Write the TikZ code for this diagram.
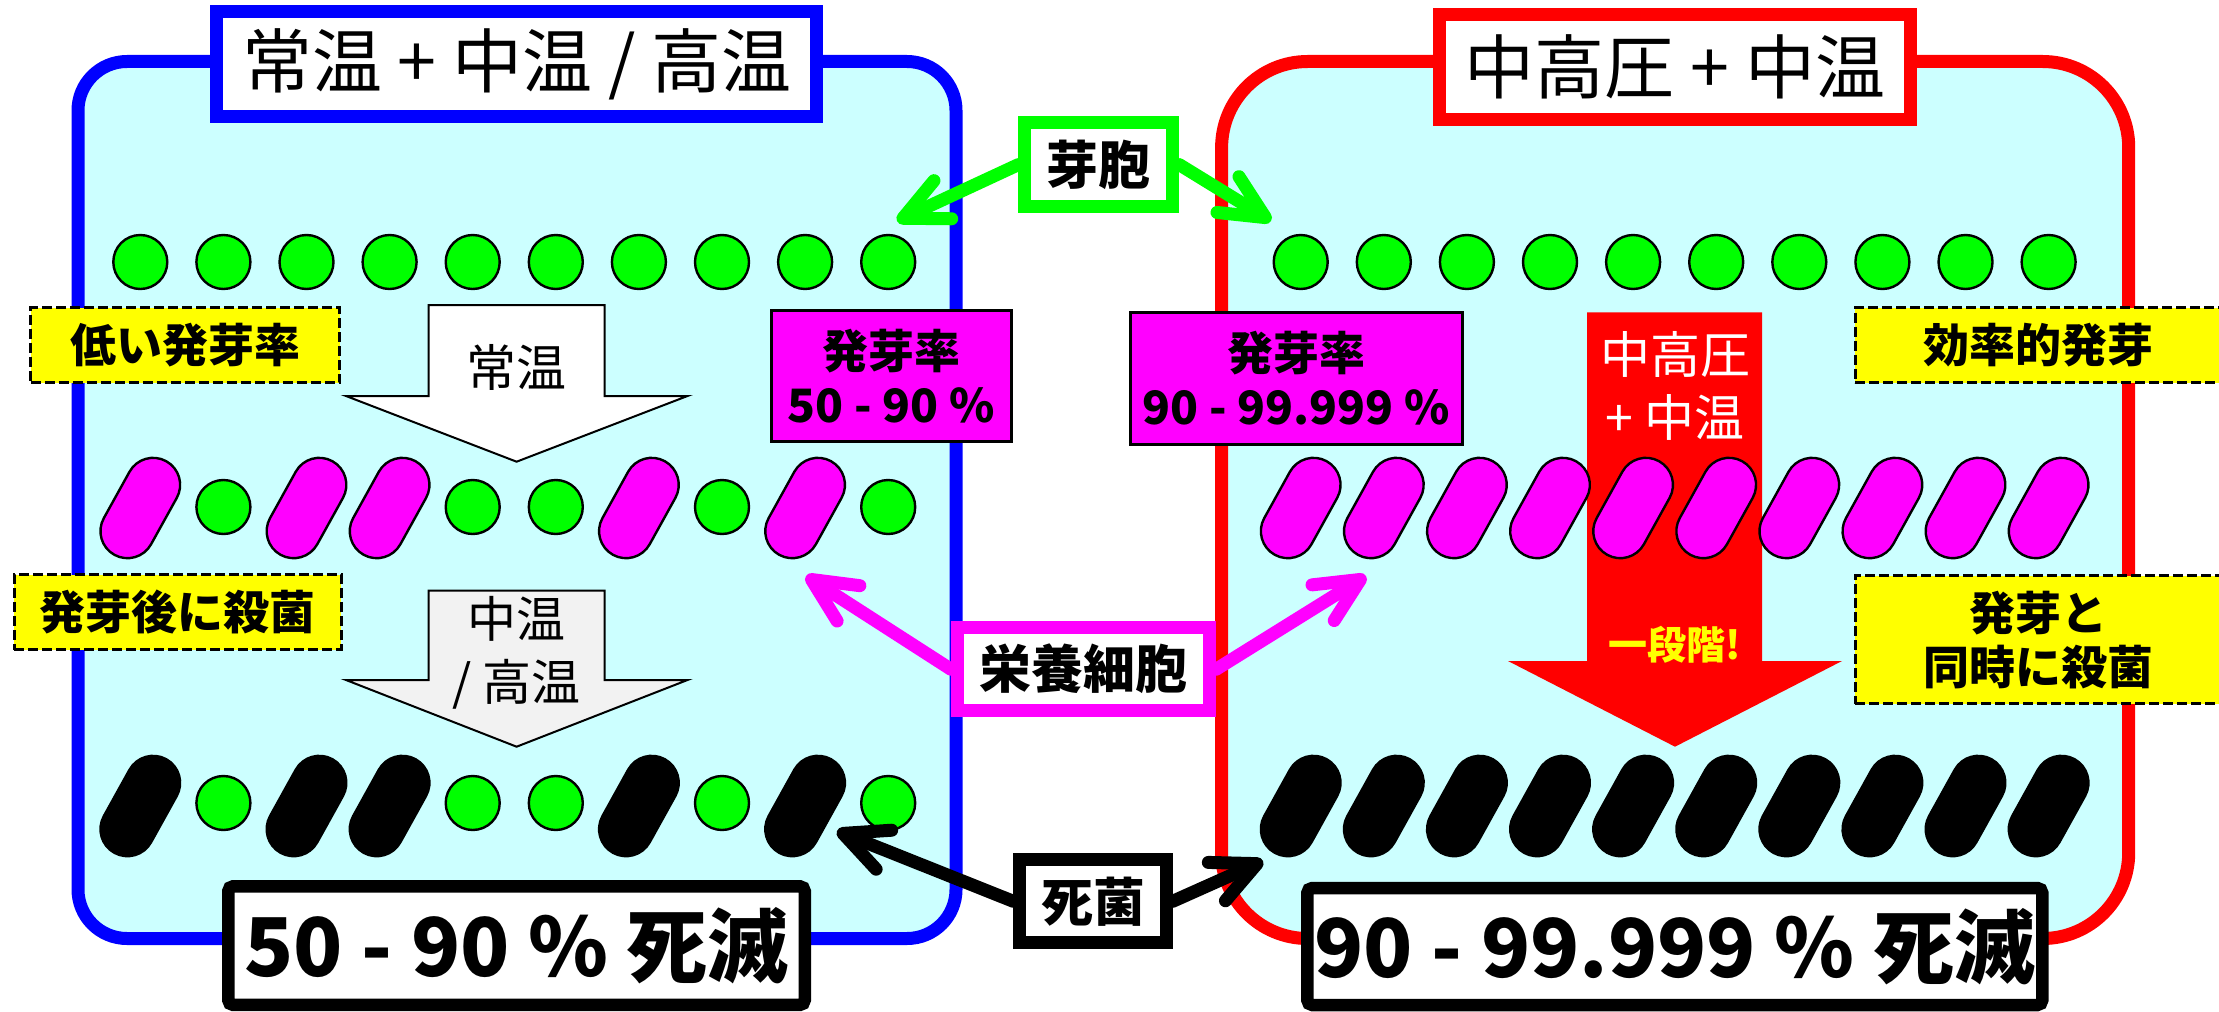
\documentclass[tikz,border=0pt]{standalone}
\usepackage{fontspec}
\setmainfont{Noto Sans CJK JP}
\usetikzlibrary{arrows.meta}
\definecolor{panelfill}{RGB}{204,255,255}
\definecolor{lightgrayfill}{RGB}{242,242,242}
\definecolor{cellmagenta}{RGB}{255,0,255}
\definecolor{cellgreen}{RGB}{0,255,0}
\definecolor{noteyellow}{RGB}{255,255,0}
\definecolor{purered}{RGB}{255,0,0}
\definecolor{pureblue}{RGB}{0,0,255}
\begin{document}
\begin{tikzpicture}[x=0.5pt,y=-0.5pt,
  panel/.style={line width=6.5pt, fill=panelfill},
  blockarrow/.style={draw=black, line width=1pt},
  titlebox/.style={draw, line width=6.5pt, fill=white, inner sep=0pt,
    font=\fontsize{35}{40}\selectfont},
  ratebox/.style={draw=black, line width=1.5pt, fill=cellmagenta, inner sep=0pt,
    align=center, font=\fontsize{23}{27.2}\selectfont\bfseries},
  notebox/.style={draw=black, line width=1.5pt, dash pattern=on 5pt off 2pt,
    fill=noteyellow, inner sep=0pt, align=center,
    font=\fontsize{23}{27}\selectfont\bfseries},
  tagbox/.style={draw, line width=6.5pt, fill=white, inner sep=0pt,
    font=\fontsize{26}{30}\selectfont\bfseries},
  resultbox/.style={draw=black, line width=6.25pt, fill=white, rounded corners=2.5pt,
    inner sep=0pt, font=\fontsize{40.5}{45}\selectfont\bfseries},
  spore/.style={circle, draw=black, line width=1.2pt, fill=cellgreen,
    minimum size=27pt, inner sep=0pt},
  vcell/.style={rectangle, rounded corners=13.5pt, draw=black, line width=1.2pt,
    fill=cellmagenta, minimum width=27pt, minimum height=53.5pt, inner sep=0pt, rotate=-29},
  dcell/.style={vcell, fill=black},
  conn/.style={line width=6.5pt, line cap=round,
    -{Straight Barb[length=22pt,width=21pt,round]}}
]
\useasboundingbox (0,0) rectangle (2219,1011);
\clip (0,0) rectangle (2219,1011);

% treatment panels
\draw[panel, draw=pureblue, rounded corners=24.5pt] (78,61.5) rectangle (956,938.5);
\draw[panel, draw=purered, rounded corners=43pt] (1221.6,61.5) rectangle (2128.7,938.5);

% process arrows
\draw[blockarrow, fill=white] (428.6,305) -- (604.6,305) -- (604.6,396) -- (687.5,396)
  -- (516.6,461.7) -- (346,396) -- (428.6,396) -- cycle;
\draw[blockarrow, fill=lightgrayfill] (428.6,590.7) -- (604.6,590.7) -- (604.6,680)
  -- (687.5,680) -- (516.6,746.7) -- (346,680) -- (428.6,680) -- cycle;
\fill[purered] (1587,312.3) -- (1762,312.3) -- (1762,661) -- (1842,661) -- (1675,746.7)
  -- (1508,661) -- (1587,661) -- cycle;

\node[font=\fontsize{25}{30}\selectfont] (stepA) at (516.6,367.5) {常温};
\node[font=\fontsize{24.5}{31.75}\selectfont, align=center] (stepB) at (516.6,653) {中温\\/ 高温};
\node[font=\fontsize{25}{31.25}\selectfont, align=center, text=white] (stepC) at (1675,386) {中高圧\\+ 中温};
\node[font=\fontsize{19.5}{24}\selectfont\bfseries, text=noteyellow] (stepD) at (1675,645) {一段階!};

% germination rates
\node[ratebox, minimum width=120pt, minimum height=65.5pt] (rateL) at (891.25,376.3) {発芽率\\50 - 90 \%};
\node[ratebox, minimum width=166pt, minimum height=65.9pt] (rateR) at (1296.2,378.4) {発芽率\\90 - 99.999 \%};

% notes
\node[notebox, minimum width=154.5pt, minimum height=37.5pt] (noteA) at (185,345) {低い発芽率};
\node[notebox, minimum width=163.4pt, minimum height=37.5pt] (noteB) at (177.6,612) {発芽後に殺菌};
\node[notebox, minimum width=183pt, minimum height=37.5pt] (noteC) at (2038,345) {効率的発芽};
\node[notebox, minimum width=183pt, minimum height=63.9pt] (noteD) at (2038,639.7) {発芽と\\同時に殺菌};

% cells: spores on top
\foreach \i in {0,...,9} {
  \node[spore] (ls\i) at ({140.3+83.1*\i},262) {};
  \node[spore] (rs\i) at ({1300.7+83.1*\i},262) {};
}
% left: after germination
\foreach \i in {0,2,3,6,8} \node[vcell] (lm\i) at ({140.3+83.1*\i},508) {};
\foreach \i in {1,4,5,7,9} \node[spore] (lm\i) at ({140.3+83.1*\i},507) {};
% left: after heating
\foreach \i in {0,2,3,6,8} \node[dcell] (lb\i) at ({140.3+83.1*\i},806) {};
\foreach \i in {1,4,5,7,9} \node[spore] (lb\i) at ({140.3+83.1*\i},803) {};
% right: all germinated, then all killed
\foreach \i in {0,...,9} {
  \node[vcell] (rm\i) at ({1300.7+83.1*\i},508) {};
  \node[dcell] (rb\i) at ({1300.7+83.1*\i},806) {};
}

% panel titles
\node[titlebox, draw=pureblue, minimum width=299.75pt, minimum height=52.4pt] (titleL) at (516.7,63.9) {常温 + 中温 / 高温};
\node[titlebox, draw=purered, minimum width=235.5pt, minimum height=52.2pt] (titleR) at (1675,67) {中高圧 + 中温};

% cell type tags
\node[tagbox, draw=cellgreen, minimum width=74pt, minimum height=42.15pt] (budtag) at (1098.8,164.65) {芽胞};
\coordinate (budL) at (897,221);
\coordinate (budR) at (1271,221);
\draw[conn, cellgreen] (budtag.west) -- (budL);
\draw[conn, cellgreen] (budtag.east) -- (budR);

\node[tagbox, draw=cellmagenta, minimum width=126.2pt, minimum height=41.65pt] (vegtag) at (1083.5,669.2) {栄養細胞};
\coordinate (vegL) at (806,576);
\coordinate (vegR) at (1366,576);
\draw[conn, cellmagenta] (vegtag.west) -- (vegL);
\draw[conn, cellmagenta] (vegtag.east) -- (vegR);

\node[tagbox, draw=black, minimum width=73.2pt, minimum height=41.5pt] (deadtag) at (1093,901.3) {死菌};
\coordinate (deadL) at (837,831);
\coordinate (deadR) at (1263,861);
\draw[conn, black] (deadtag.west) -- (deadL);
\draw[conn, black] (deadtag.east) -- (deadR);

% results
\node[resultbox, minimum width=288.25pt, minimum height=59.35pt] (resL) at (516.5,945.6) {50 - 90 \% 死滅};
\node[resultbox, minimum width=367.5pt, minimum height=58.5pt] (resR) at (1674.8,946.5) {90 - 99.999 \% 死滅};
\end{tikzpicture}
\end{document}
